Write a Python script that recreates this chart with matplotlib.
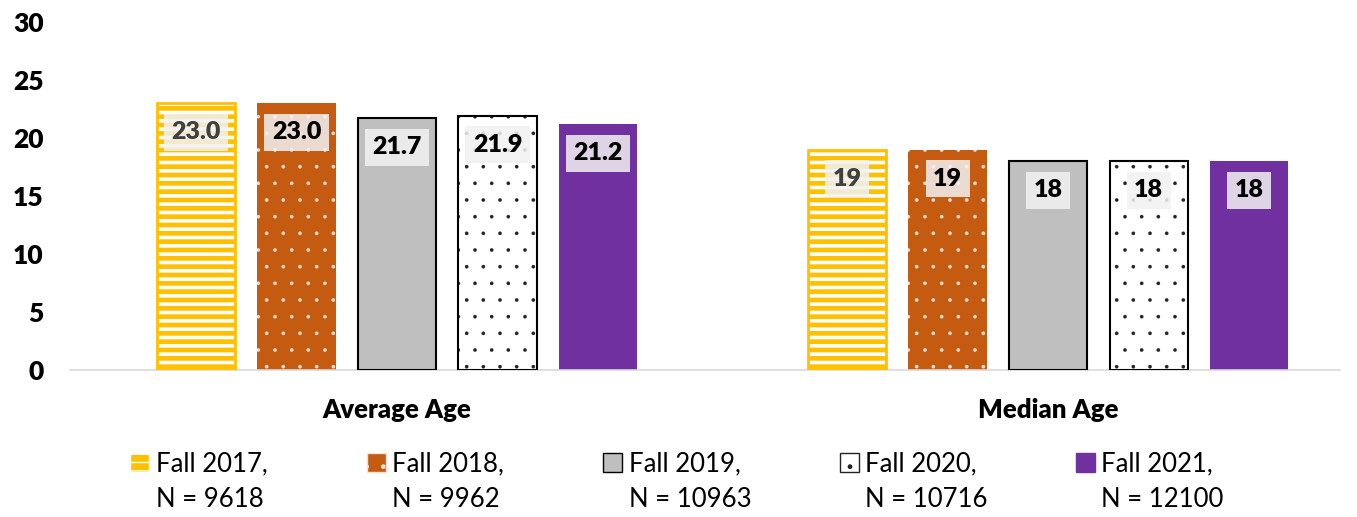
import numpy as np
import matplotlib
matplotlib.use('Agg')
import matplotlib.pyplot as plt
from matplotlib.patches import Patch

plt.rcParams['font.family'] = ['Lato', 'DejaVu Sans']

categories = ['Average Age', 'Median Age']
series = ['Fall 2017', 'Fall 2018', 'Fall 2019', 'Fall 2020', 'Fall 2021']
counts = ['9618', '9962', '10963', '10716', '12100']
values = [
    [23.0, 19],
    [23.0, 19],
    [21.7, 18],
    [21.9, 18],
    [21.2, 18],
]
label_fmt = ['{:.1f}', '{:.0f}']

# face, hatch colour, hatch, outline colour, outline width, hatch lw
styles = [
    ('#FFC000', 'white', '--', '#FFC000', 2.0, 2.6),
    ('#C55A11', '#F4E0D4', '.', 'none', 0.0, 0.2),
    ('#BFBFBF', 'black', None, 'black', 1.5, 1.0),
    ('white', '#222222', '.', 'black', 1.5, 0.2),
    ('#7030A0', 'none', None, 'none', 0.0, 1.0),
]
text_colors = ['#404040', 'black', 'black', 'black', 'black']

fig = plt.figure(figsize=(13.57, 5.17), dpi=100)
ax = fig.add_axes([0.0516, 0.2843, 0.9359, 0.6731])

x = np.arange(len(categories))
step = 0.1544
width = 0.12

for i, (name, vals) in enumerate(zip(series, values)):
    fc, hc, hatch, oc, olw, hlw = styles[i]
    pos = x + (i - 2) * step
    with plt.rc_context({'hatch.linewidth': hlw}):
        ax.bar(pos, vals, width, color=fc, edgecolor=hc, hatch=hatch, linewidth=0, zorder=2)
    if olw > 0:
        ax.bar(pos, vals, width, fill=False, edgecolor=oc, linewidth=olw, zorder=3)
    for j, (p, v) in enumerate(zip(pos, vals)):
        ax.annotate(label_fmt[j].format(v), (p, v), xytext=(0, -29),
                    textcoords='offset pixels', ha='center', va='center',
                    fontsize=18, fontweight='heavy', color=text_colors[i], zorder=5,
                    bbox=dict(boxstyle='square,pad=0.3', fc='#F2F2F2', ec='none', alpha=0.85))

ax.set_xlim(-0.5023, 1.4485)
ax.set_ylim(0, 30)
ax.set_yticks(np.arange(0, 31, 5))
ax.set_xticks(x)
ax.set_xticklabels(categories, fontsize=18.5, fontweight='heavy')
ax.tick_params(axis='both', length=0)
ax.tick_params(axis='x', pad=20)
ax.tick_params(axis='y', pad=19)
for lab in ax.get_yticklabels():
    lab.set_fontsize(19)
    lab.set_fontweight('heavy')
for s in ['top', 'right', 'left']:
    ax.spines[s].set_visible(False)
ax.spines['bottom'].set_color('#D9D9D9')
ax.spines['bottom'].set_linewidth(1.2)

handles = []
for i in range(len(series)):
    fc, hc, hatch, oc, olw, hlw = styles[i]
    ec = hc if hatch else (oc if oc != 'none' else fc)
    handles.append(Patch(facecolor=fc, edgecolor=ec, hatch=hatch, linewidth=1.0))
leg = fig.legend(handles, [s + ',' for s in series], ncol=5, loc='center',
                 bbox_to_anchor=(0.495, 0.1025), frameon=False, fontsize=18.5,
                 handlelength=0.75, handleheight=0.75, handletextpad=0.25,
                 columnspacing=3.85)

fig.canvas.draw()
inv = fig.transFigure.inverted()
for t, n in zip(leg.get_texts(), counts):
    bb = t.get_window_extent()
    x0, y0 = inv.transform((bb.x0, bb.y0))
    fig.text(x0, y0 - 0.068, 'N = ' + n, fontsize=18.5, ha='left', va='bottom')

fig.savefig('out.png', dpi=100)
